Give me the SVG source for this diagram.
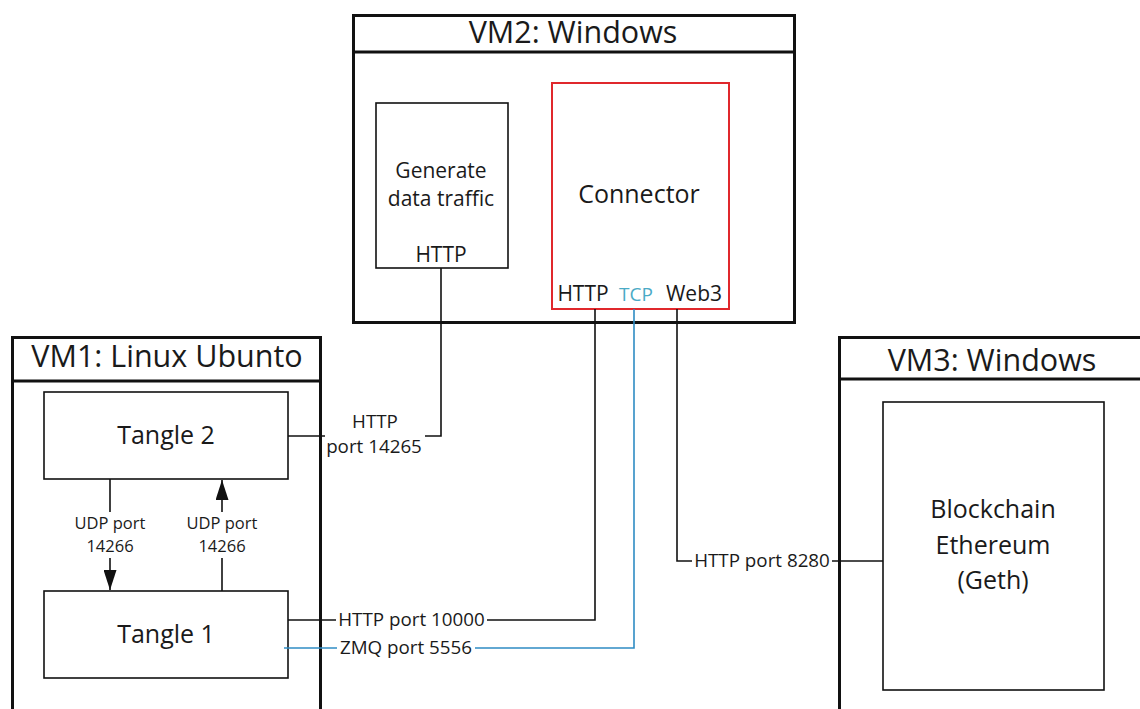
<svg xmlns="http://www.w3.org/2000/svg" width="1140" height="709" viewBox="0 0 1140 709">
<defs>
<style>
text{font-family:"Open Sans","Liberation Sans",sans-serif;fill:#1a1a1a;text-anchor:middle}
.frame{fill:none;stroke:#111;stroke-width:3}
.box{fill:#fff;stroke:#111;stroke-width:1.6}
.red{fill:#fff;stroke:#e0282c;stroke-width:2}
.ln{fill:none;stroke:#111;stroke-width:1.6}
.tl{fill:none;stroke:#2f8cc4;stroke-width:1.6}
.title{font-size:30.5px}
.big{font-size:25px}
.mid{font-size:21px}
.lbl{font-size:18.8px}
.sm{font-size:16.5px}
</style>
<marker id="ah" viewBox="0 0 20 13" refX="20" refY="6.5" markerWidth="20" markerHeight="13" markerUnits="userSpaceOnUse" orient="auto">
<path d="M0,0 L20,6.5 L0,13 Z" fill="#111"/>
</marker>
</defs>
<rect width="1140" height="709" fill="#fff"/>

<g id="vm2">
<rect class="frame" x="353.5" y="15.5" width="441" height="307"/>
<line class="frame" x1="353.5" y1="52" x2="794.5" y2="52"/>
<text class="title" x="573" y="43">VM2: Windows</text>
</g>
<g id="generate">
<rect class="box" x="376" y="103" width="132" height="165"/>
<text class="mid" x="441" y="178">Generate</text>
<text class="mid" x="441" y="206">data traffic</text>
<text class="mid" x="441" y="262">HTTP</text>
</g>
<g id="connector">
<rect class="red" x="552" y="83" width="177" height="226"/>
<text class="big" x="639" y="203">Connector</text>
<text class="mid" x="583" y="301">HTTP</text>
<text class="mid" x="636" y="301" style="fill:#4aaac6;font-size:19px">TCP</text>
<text class="mid" x="694" y="301">Web3</text>
</g>

<g id="vm1">
<path class="frame" d="M12.5,712 V337.5 H320.5 V712"/>
<line class="frame" x1="12.5" y1="381" x2="320.5" y2="381"/>
<text class="title" x="167" y="367">VM1: Linux Ubunto</text>
</g>
<g id="tangle2">
<rect class="box" x="44" y="392" width="244" height="87"/>
<text class="big" x="166" y="444">Tangle 2</text>
</g>
<g id="tangle1">
<rect class="box" x="44" y="591" width="244" height="87"/>
<text class="big" x="166" y="643">Tangle 1</text>
</g>

<g id="vm3">
<path class="frame" d="M839.5,712 V337.5 H1142"/>
<line class="frame" x1="839.5" y1="379" x2="1142" y2="379"/>
<text class="title" x="992" y="371">VM3: Windows</text>
</g>
<g id="blockchain">
<rect class="box" x="883" y="402" width="221" height="288"/>
<text class="big" x="993" y="518">Blockchain</text>
<text class="big" x="993" y="554">Ethereum</text>
<text class="big" x="993" y="589">(Geth)</text>
</g>

<g id="connectors">
<polyline class="ln" points="441,268 441,436 425,436"/>
<line class="ln" x1="288" y1="436" x2="325" y2="436"/>
<polyline class="ln" points="595,309 595,620 487,620"/>
<line class="ln" x1="288" y1="620" x2="336" y2="620"/>
<polyline class="tl" points="634,309 634,648 475,648"/>
<line class="tl" x1="284" y1="648" x2="337" y2="648"/>
<polyline class="ln" points="677,309 677,561 692,561"/>
<line class="ln" x1="832" y1="561" x2="883" y2="561"/>
<line class="ln" x1="110" y1="479" x2="110" y2="512"/>
<line class="ln" x1="110" y1="558" x2="110" y2="590" marker-end="url(#ah)"/>
<line class="ln" x1="222" y1="591" x2="222" y2="558"/>
<line class="ln" x1="222" y1="512" x2="222" y2="480" marker-end="url(#ah)"/>
<text class="lbl" x="375" y="428">HTTP</text>
<text class="lbl" x="374" y="453">port 14265</text>
<text class="lbl" x="411.5" y="626">HTTP port 10000</text>
<text class="lbl" x="406" y="654">ZMQ port 5556</text>
<text class="lbl" x="762" y="567">HTTP port 8280</text>
<text class="sm" x="110" y="529">UDP port</text>
<text class="sm" x="110" y="552">14266</text>
<text class="sm" x="222" y="529">UDP port</text>
<text class="sm" x="222" y="552">14266</text>
</g>
</svg>
